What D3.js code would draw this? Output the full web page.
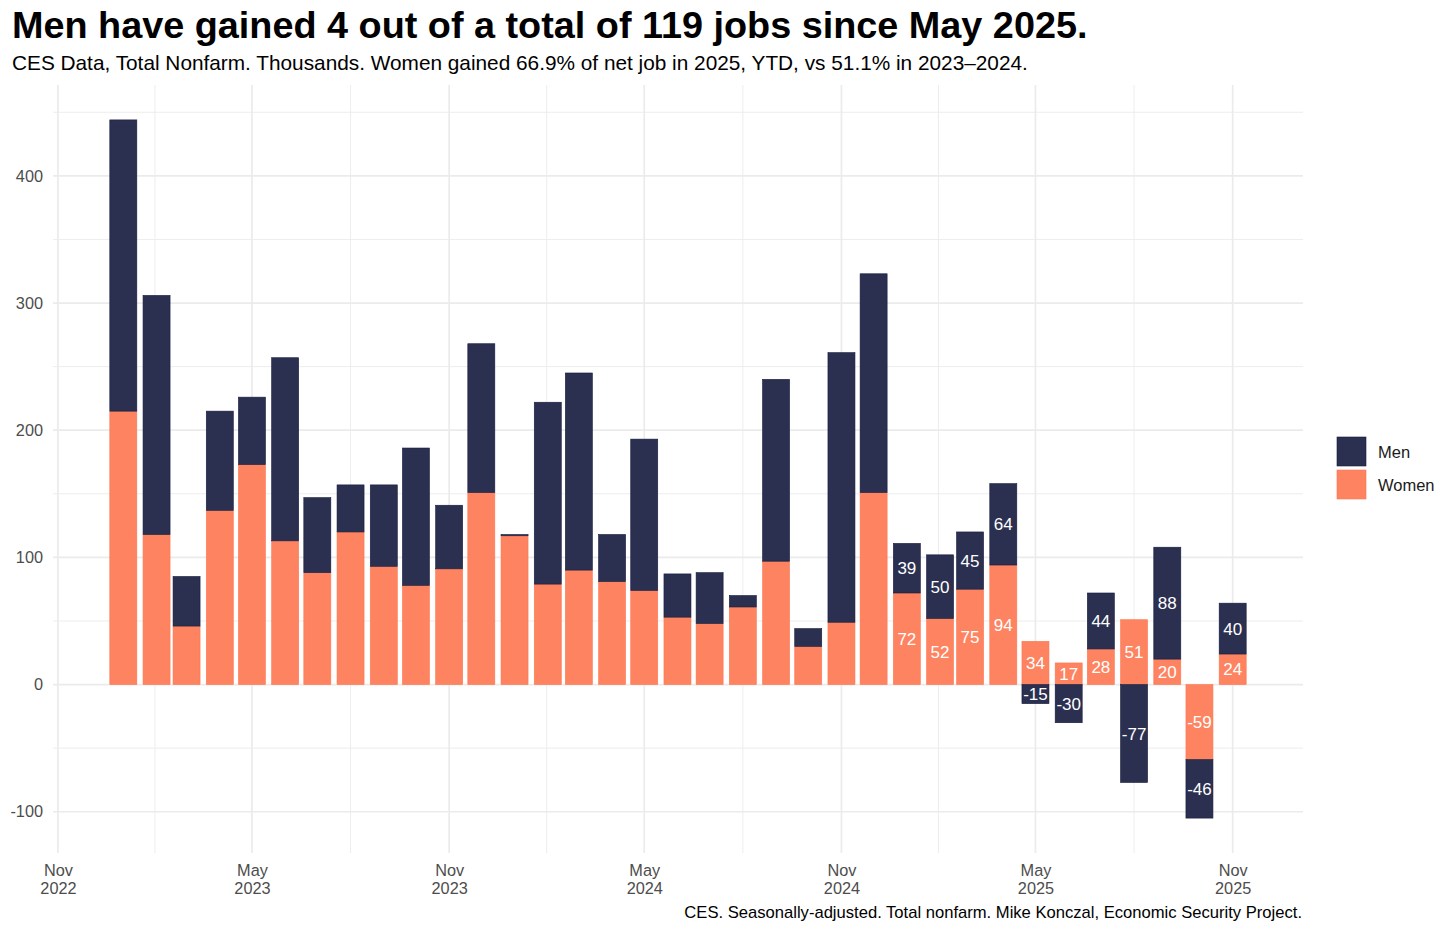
<!DOCTYPE html>
<html>
<head>
<meta charset="utf-8">
<script src="https://cdn.jsdelivr.net/npm/d3@7"></script>
<style>
  body { margin: 0; background: #fff; }
  text { font-family: "Liberation Sans", Arial, Helvetica, sans-serif; }
</style>
</head>
<body>
<div id="chart"></div>
<script>
// monthly change, thousands (Jan 2023 .. Nov 2025)
var months = ["2023-01","2023-02","2023-03","2023-04","2023-05","2023-06","2023-07","2023-08","2023-09","2023-10","2023-11","2023-12",
  "2024-01","2024-02","2024-03","2024-04","2024-05","2024-06","2024-07","2024-08","2024-09","2024-10","2024-11","2024-12",
  "2025-01","2025-02","2025-03","2025-04","2025-05","2025-06","2025-07","2025-08","2025-09","2025-10","2025-11"];
var women = [215,118,46,137,173,113,88,120,93,78,91,151,
  117,79,90,81,74,53,48,61,97,30,49,151,
  72,52,75,94,34,17,28,51,20,-59,24];
var men = [229,188,39,78,53,144,59,37,64,108,50,117,
  1,143,155,37,119,34,40,9,143,14,212,172,
  39,50,45,64,-15,-30,44,-77,88,-46,40];
var seriesNames = ["Women", "Men"];
var legendOrder = ["Men", "Women"];
var yTicks = [-100, 0, 100, 200, 300, 400];
var labelFrom = "2025-01";

var svgWidth = 1456;
var svgHeight = 931;
var panel = { left: 53, right: 1303, top: 85, bottom: 853 };

var colors = { Men: "#2b3051", Women: "#fe8361" };
var strokes = { Men: "#151b3d", Women: "#ff7650" };
var smallFont = 16.3;

var parseMonth = d3.timeParse("%Y-%m");
var data = months.map(function(m, i) {
  return { date: parseMonth(m), key: m, Women: women[i], Men: men[i] };
});

var svg = d3.select("#chart")
  .append("svg")
  .attr("width", svgWidth)
  .attr("height", svgHeight);

svg.append("rect").attr("width", svgWidth).attr("height", svgHeight).attr("fill", "#fff");

// bar width = 0.9 * 28 days, like ggplot's resolution rule
var DAY = 864e5;
var halfBar = 0.9 * 28 * DAY / 2;

var xMin = d3.min(data, d => +d.date) - halfBar;
var xMax = d3.max(data, d => +d.date) + halfBar;
var xPad = (xMax - xMin) * 0.05;
var xScale = d3.scaleTime()
  .domain([new Date(xMin - xPad), new Date(xMax + xPad)])
  .range([panel.left, panel.right]);

var stacked = d3.stack()
  .keys(seriesNames)
  .offset(d3.stackOffsetDiverging)(data);

var yLo = d3.min(stacked, s => d3.min(s, d => d[0]));
var yHi = d3.max(stacked, s => d3.max(s, d => d[1]));
var yPad = (yHi - yLo) * 0.05;
var yScale = d3.scaleLinear()
  .domain([yLo - yPad, yHi + yPad])
  .range([panel.bottom, panel.top]);

// grid: major breaks every May / Nov, minor breaks half way between
var majorX = d3.timeMonth.range(xScale.domain()[0], xScale.domain()[1])
  .filter(d => d.getMonth() === 4 || d.getMonth() === 10);
var minorX = [];
for (var i = 0; i < majorX.length - 1; i++) {
  minorX.push(new Date((+majorX[i] + +majorX[i + 1]) / 2));
}
var minorY = [];
for (var j = 0; j < yTicks.length - 1; j++) minorY.push((yTicks[j] + yTicks[j + 1]) / 2);
minorY.push(yTicks[yTicks.length - 1] + 50);
minorY = minorY.filter(v => v >= yScale.domain()[0] && v <= yScale.domain()[1]);

var grid = svg.append("g");
grid.selectAll(".minor-y").data(minorY).enter().append("line")
  .attr("x1", panel.left).attr("x2", panel.right)
  .attr("y1", d => yScale(d)).attr("y2", d => yScale(d))
  .attr("stroke", "#ebebeb").attr("stroke-width", 0.9);
grid.selectAll(".minor-x").data(minorX).enter().append("line")
  .attr("x1", d => xScale(d)).attr("x2", d => xScale(d))
  .attr("y1", panel.top).attr("y2", panel.bottom)
  .attr("stroke", "#ebebeb").attr("stroke-width", 0.9);
grid.selectAll(".major-y").data(yTicks).enter().append("line")
  .attr("x1", panel.left).attr("x2", panel.right)
  .attr("y1", d => yScale(d)).attr("y2", d => yScale(d))
  .attr("stroke", "#ebebeb").attr("stroke-width", 1.7);
grid.selectAll(".major-x").data(majorX).enter().append("line")
  .attr("x1", d => xScale(d)).attr("x2", d => xScale(d))
  .attr("y1", panel.top).attr("y2", panel.bottom)
  .attr("stroke", "#ebebeb").attr("stroke-width", 1.7);

// axes (text only, ggplot minimal style)
var yAxis = d3.axisLeft(yScale).tickValues(yTicks).tickSize(0).tickPadding(10)
  .tickFormat(d => String(d));
var yG = svg.append("g").attr("transform", `translate(${panel.left},0)`).call(yAxis);
yG.select(".domain").remove();
yG.selectAll("text").attr("font-size", smallFont).attr("fill", "#4d4d4d")
  .style("font-family", "'Liberation Sans', Arial, sans-serif");

var xAxis = d3.axisBottom(xScale).tickValues(majorX).tickSize(0).tickFormat("");
var xG = svg.append("g").attr("transform", `translate(0,${panel.bottom})`).call(xAxis);
xG.select(".domain").remove();
xG.selectAll(".tick").each(function(d) {
  var t = d3.select(this).append("text")
    .attr("text-anchor", "middle").attr("font-size", smallFont).attr("fill", "#4d4d4d");
  t.append("tspan").attr("x", 0).attr("y", 23).text(d3.timeFormat("%b")(d));
  t.append("tspan").attr("x", 0).attr("y", 41).text(d3.timeFormat("%Y")(d));
});

// bars
var barW = xScale(new Date(+data[0].date + halfBar)) - xScale(new Date(+data[0].date - halfBar));
var layers = svg.selectAll(".layer")
  .data(stacked)
  .enter().append("g")
  .attr("fill", d => colors[d.key])
  .attr("stroke", d => strokes[d.key])
  .attr("stroke-width", 0.6);

layers.selectAll("rect")
  .data(d => d)
  .enter().append("rect")
  .attr("x", d => xScale(d.data.date) - barW / 2)
  .attr("width", barW)
  .attr("y", d => yScale(d[1]))
  .attr("height", d => yScale(d[0]) - yScale(d[1]));

// value labels for 2025
var labelRows = [];
stacked.forEach(function(s) {
  s.forEach(function(d) {
    if (d.data.key >= labelFrom) labelRows.push({ date: d.data.date, mid: (d[0] + d[1]) / 2, value: d.data[s.key] });
  });
});
svg.append("g").selectAll("text")
  .data(labelRows)
  .enter().append("text")
  .attr("x", d => xScale(d.date))
  .attr("y", d => yScale(d.mid))
  .attr("dy", "0.36em")
  .attr("text-anchor", "middle")
  .attr("font-size", 17)
  .attr("fill", "#fff")
  .text(d => d.value);

// legend
var legend = svg.append("g").attr("transform", "translate(1337,437)");
legend.selectAll("rect").data(legendOrder).enter().append("rect")
  .attr("x", 0).attr("y", (d, i) => i * 33)
  .attr("width", 29).attr("height", 29)
  .attr("fill", d => colors[d]).attr("stroke", d => strokes[d]).attr("stroke-width", 0.6);
legend.selectAll("text").data(legendOrder).enter().append("text")
  .attr("x", 41).attr("y", (d, i) => i * 33 + 15).attr("dy", "0.36em")
  .attr("font-size", 16.5).attr("fill", "#1a1a1a")
  .text(d => d);

// titles
svg.append("text").attr("x", 12).attr("y", 38)
  .attr("font-size", 37.8).attr("font-weight", "bold").attr("fill", "#000")
  .text("Men have gained 4 out of a total of 119 jobs since May 2025.");
svg.append("text").attr("x", 12).attr("y", 70)
  .attr("font-size", 20.8).attr("fill", "#000")
  .text("CES Data, Total Nonfarm. Thousands. Women gained 66.9% of net job in 2025, YTD, vs 51.1% in 2023\u20132024.");
svg.append("text").attr("x", 1302).attr("y", 918)
  .attr("text-anchor", "end").attr("font-size", 16.6).attr("fill", "#000")
  .text("CES. Seasonally-adjusted. Total nonfarm. Mike Konczal, Economic Security Project.");
</script>
</body>
</html>
